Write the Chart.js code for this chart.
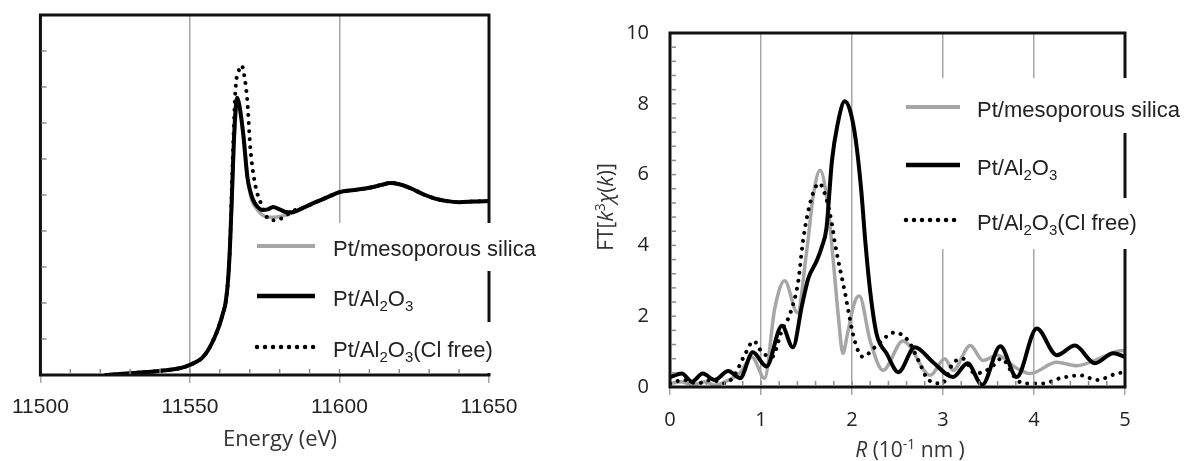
<!DOCTYPE html>
<html>
<head>
<meta charset="utf-8">
<script src="https://cdn.jsdelivr.net/npm/chart.js@4"></script>
<style>
  body { margin: 0; background: #fff; }
  #wrap { position: relative; width: 1188px; height: 461px; }
  canvas { position: absolute; top: 0; }
</style>
</head>
<body>
<div id="wrap">
  <canvas id="xanes" width="580" height="461" style="left:0"></canvas>
  <canvas id="ft" width="608" height="461" style="left:580px"></canvas>
</div>
<script>
// series names (shared by both panels)
const seriesNames = ['Pt/mesoporous silica', 'Pt/Al2O3', 'Pt/Al2O3(Cl free)'];

// ---- left panel: XANES, energy (eV) vs normalised absorption (arb.)
const xanesTicks = [11500, 11550, 11600, 11650];

const eAl = [11522, 11530, 11538, 11544, 11548, 11550, 11552, 11554, 11556, 11558, 11559.5, 11561, 11562, 11562.8, 11563.4, 11564, 11564.6, 11565.2, 11565.8, 11566.5, 11567.8, 11569.2, 11570.2, 11571.2, 11572.5, 11574.2, 11576, 11577.8, 11580, 11582, 11584, 11588, 11592, 11596, 11600, 11605, 11610, 11614, 11617, 11620, 11624, 11628, 11632, 11636, 11640, 11645, 11650];
const muAl = [0, 0.05, 0.1, 0.15, 0.22, 0.28, 0.36, 0.47, 0.68, 1.0, 1.3, 1.7, 2.05, 2.7, 3.6, 4.9, 6.3, 7.3, 7.7, 7.5, 6.7, 5.5, 5.1, 4.85, 4.68, 4.58, 4.6, 4.67, 4.6, 4.53, 4.52, 4.65, 4.8, 4.94, 5.08, 5.14, 5.2, 5.28, 5.33, 5.3, 5.18, 5.02, 4.9, 4.83, 4.8, 4.82, 4.83];

const eSil = [11522, 11530, 11538, 11544, 11548, 11550, 11552, 11554, 11556, 11558, 11559.5, 11561, 11562, 11562.8, 11563.4, 11564, 11564.6, 11565.3, 11566, 11566.8, 11568, 11569.4, 11570.5, 11572.5, 11574.2, 11576, 11578, 11580.9, 11584, 11588, 11592, 11596, 11600, 11605, 11610, 11614, 11617, 11620, 11624, 11628, 11632, 11636, 11640, 11645, 11650];
const muSil = [0, 0.05, 0.1, 0.15, 0.22, 0.28, 0.36, 0.47, 0.68, 1.0, 1.3, 1.7, 2.05, 2.65, 3.5, 4.8, 6.2, 7.2, 7.6, 7.4, 6.6, 5.4, 4.9, 4.6, 4.45, 4.38, 4.38, 4.42, 4.5, 4.65, 4.8, 4.94, 5.08, 5.14, 5.2, 5.28, 5.33, 5.3, 5.18, 5.02, 4.9, 4.83, 4.8, 4.82, 4.83];

const eCl = [11522, 11530, 11538, 11544, 11548, 11550, 11552, 11554, 11556, 11558, 11559.5, 11561, 11562, 11562.8, 11563.4, 11564.3, 11565.2, 11566.3, 11567.3, 11568.2, 11569.2, 11570.2, 11571.8, 11574.2, 11575.8, 11578, 11580.9, 11584.2, 11588, 11592, 11596, 11600, 11605, 11610, 11614, 11617, 11620, 11624, 11628, 11632, 11636, 11640, 11645, 11650];
const muCl = [0, 0.05, 0.1, 0.15, 0.22, 0.28, 0.36, 0.47, 0.68, 1.0, 1.3, 1.7, 2.05, 2.7, 3.6, 6.0, 7.9, 8.45, 8.6, 8.3, 7.6, 6.3, 5.3, 4.67, 4.38, 4.3, 4.36, 4.55, 4.65, 4.8, 4.94, 5.08, 5.14, 5.2, 5.28, 5.33, 5.3, 5.18, 5.02, 4.9, 4.83, 4.8, 4.82, 4.83];

// ---- right panel: FT of k3-weighted EXAFS, R (0.1 nm)
const ftTicksX = [0, 1, 2, 3, 4, 5];
const ftTicksY = [0, 2, 4, 6, 8, 10];

const rAl = [0, 0.13, 0.24, 0.36, 0.49, 0.64, 0.77, 0.91, 1.06, 1.23, 1.35, 1.45, 1.52, 1.61, 1.67, 1.72, 1.78, 1.84, 1.92, 1.98, 2.04, 2.1, 2.15, 2.2, 2.27, 2.38, 2.51, 2.69, 2.89, 3.11, 3.27, 3.43, 3.63, 3.81, 4.03, 4.25, 4.45, 4.67, 4.87, 5.0];
const ftAl = [0.28, 0.38, 0.15, 0.38, 0.2, 0.45, 0.25, 0.98, 0.58, 1.73, 1.12, 2.3, 3.07, 3.55, 3.97, 4.5, 6.4, 7.4, 8.07, 7.8, 7.0, 5.6, 4.0, 2.7, 1.5, 0.95, 0.42, 1.12, 0.7, 0.28, 0.67, 0.06, 1.15, 0.28, 1.65, 0.9, 1.17, 0.67, 0.95, 0.85];

const rSil = [0, 0.13, 0.25, 0.38, 0.5, 0.63, 0.77, 0.9, 1.04, 1.15, 1.26, 1.4, 1.5, 1.58, 1.65, 1.74, 1.8, 1.85, 1.9, 1.95, 2.03, 2.08, 2.2, 2.34, 2.56, 2.62, 2.86, 3.02, 3.11, 3.3, 3.44, 3.6, 3.81, 3.96, 4.25, 4.47, 4.76, 4.97, 5.0];
const ftSil = [0.1, 0.15, 0.05, 0.15, 0.05, 0.18, 0.4, 0.85, 0.25, 2.2, 3.0, 2.1, 3.8, 5.5, 6.12, 5.0, 3.4, 2.0, 0.95, 1.5, 2.4, 2.57, 1.3, 0.47, 1.3, 1.2, 0.33, 0.8, 0.47, 1.17, 0.75, 0.9, 0.53, 0.38, 0.7, 0.6, 0.85, 1.03, 1.0];

const rCl = [0, 0.15, 0.3, 0.45, 0.6, 0.7, 0.82, 0.92, 1.01, 1.12, 1.23, 1.32, 1.41, 1.46, 1.54, 1.64, 1.72, 1.78, 1.81, 1.92, 2.03, 2.12, 2.25, 2.47, 2.62, 2.73, 2.84, 2.99, 3.11, 3.22, 3.35, 3.52, 3.64, 3.81, 3.92, 4.1, 4.29, 4.51, 4.69, 4.91, 5.0];
const ftCl = [0.1, 0.2, 0.1, 0.2, 0.1, 0.3, 0.9, 1.3, 0.98, 0.85, 1.6, 2.07, 3.0, 4.1, 5.2, 5.75, 5.3, 4.6, 4.1, 2.7, 1.3, 0.85, 1.12, 1.54, 1.3, 0.75, 0.2, 0.1, 0.67, 0.8, 0.38, 0.53, 0.8, 0.2, 0.1, 0.1, 0.25, 0.33, 0.2, 0.38, 0.42];

const pts = (xs, ys) => xs.map((x, i) => ({ x: x, y: ys[i] }));

const GRAY = '#a6a6a6';
const DOTS = [0.01, 8];
const styles = [
  { color: GRAY, width: 3.5, dash: [] },
  { color: '#000', width: 4, dash: [] },
  { color: '#000', width: 4, dash: DOTS }
];

function makeSets(xs, ys) {
  // drawn order: black on top, then dotted, gray at the back
  const order = [2, 0, 1];
  return seriesNames.map((name, i) => ({
    label: name,
    data: pts(xs[i], ys[i]),
    showLine: true,
    pointRadius: 0,
    fill: false,
    borderColor: styles[i].color,
    borderWidth: styles[i].width,
    borderDash: styles[i].dash,
    borderCapStyle: 'round',
    cubicInterpolationMode: 'monotone',
    order: order[i]
  }));
}

// text with italic / sub / sup pieces
function drawRich(ctx, parts, x, y, size, family, align) {
  const font = p => (p.it ? 'italic ' : '') + ((p.sub || p.sup) ? Math.round(size * 0.68) : size) + 'px ' + family;
  let w = 0;
  parts.forEach(p => { ctx.font = font(p); w += ctx.measureText(p.t).width; });
  let cx = align === 'center' ? x - w / 2 : x;
  ctx.textAlign = 'left';
  ctx.textBaseline = 'alphabetic';
  parts.forEach(p => {
    ctx.font = font(p);
    const dy = p.sub ? size * 0.24 : p.sup ? -size * 0.36 : 0;
    ctx.fillText(p.t, cx, y + dy);
    cx += ctx.measureText(p.t).width;
  });
  return w;
}

// digits in the sample names are chemical subscripts
const nameParts = name => name.split(/(\d)/).filter(s => s).map(s => /\d/.test(s) ? { t: s, sub: true } : { t: s });

const framePlugin = {
  id: 'frame',
  afterDatasetsDraw(chart, args, o) {
    const { ctx, chartArea: a, scales: { x, y } } = chart;
    ctx.save();
    ctx.strokeStyle = '#111';
    ctx.lineWidth = 3;
    ctx.strokeRect(a.left, a.top, a.right - a.left, a.bottom - a.top);

    // white boxes behind each legend entry
    ctx.fillStyle = '#fff';
    o.boxes.forEach(b => ctx.fillRect(b[0], b[1], b[2] - b[0], b[3] - b[1]));

    // inward minor ticks
    ctx.strokeStyle = '#8c8c8c';
    ctx.lineWidth = 1.5;
    const nx = Math.round((x.max - x.min) / o.xMinor);
    for (let i = 1; i < nx; i++) {
      const px = x.getPixelForValue(x.min + i * o.xMinor);
      ctx.beginPath(); ctx.moveTo(px, a.bottom - 1); ctx.lineTo(px, a.bottom - 6); ctx.stroke();
    }
    const ny = Math.round((y.max - y.min) / o.yMinor);
    for (let i = 1; i < ny; i++) {
      const py = y.getPixelForValue(y.min + i * o.yMinor);
      ctx.beginPath(); ctx.moveTo(a.left + 1, py); ctx.lineTo(a.left + 6, py); ctx.stroke();
    }

    // legend
    const L = o.legend;
    seriesNames.forEach((name, i) => {
      const ry = L.rows[i];
      const s = styles[i];
      ctx.strokeStyle = s.color;
      ctx.lineWidth = s.width + 0.5;
      ctx.lineCap = s.dash.length ? 'round' : 'butt';
      ctx.setLineDash(s.dash);
      ctx.beginPath(); ctx.moveTo(L.x0, ry); ctx.lineTo(L.x1, ry); ctx.stroke();
      ctx.setLineDash([]);
      ctx.fillStyle = '#222';
      drawRich(ctx, nameParts(name), L.tx, ry + 10, 22, '"Liberation Sans", Arial', 'left');
    });

    // axis titles
    ctx.fillStyle = '#333';
    if (o.xTitle) drawRich(ctx, o.xTitle.parts, o.xTitle.x, o.xTitle.y, o.xTitle.size, o.xTitle.family, 'center');
    if (o.yTitle) {
      ctx.translate(o.yTitle.x, o.yTitle.y);
      ctx.rotate(-Math.PI / 2);
      drawRich(ctx, o.yTitle.parts, 0, 0, o.yTitle.size, o.yTitle.family, 'center');
    }
    ctx.restore();
  }
};

const gridX = { color: GRAY, lineWidth: 1.5, drawTicks: true, tickLength: 8, tickColor: GRAY };

// left: XANES
new Chart(document.getElementById('xanes'), {
  type: 'scatter',
  data: { datasets: makeSets([eSil, eAl, eCl], [muSil, muAl, muCl]) },
  plugins: [framePlugin],
  options: {
    responsive: false,
    animation: false,
    layout: { padding: { top: 15, right: 91, left: 0, bottom: 0 } },
    plugins: {
      legend: { display: false },
      tooltip: { enabled: false },
      frame: {
        xMinor: 10, yMinor: 1,
        boxes: [[250, 223, 548, 271], [250, 271, 422, 322], [250, 322, 500, 373]],
        legend: { x0: 257, x1: 315, tx: 333, rows: [246, 296, 347] },
        xTitle: { parts: [{ t: 'Energy (eV)' }], x: 280, y: 446, size: 22, family: '"Open Sans"' }
      }
    },
    scales: {
      x: {
        type: 'linear', min: 11500, max: 11650,
        afterBuildTicks: s => { s.ticks = xanesTicks.map(v => ({ value: v })); },
        grid: gridX,
        border: { display: false },
        ticks: { font: { family: '"Liberation Sans", Arial', size: 21 }, color: '#222', padding: 12, maxRotation: 0, callback: v => String(v) },
        afterFit: s => { s.height = 86; }
      },
      y: {
        min: 0, max: 10,
        ticks: { display: false },
        grid: { display: false, drawTicks: false },
        border: { display: false },
        afterFit: s => { s.width = 40; }
      }
    }
  }
});

// right: Fourier transform
new Chart(document.getElementById('ft'), {
  type: 'scatter',
  data: { datasets: makeSets([rSil, rAl, rCl], [ftSil, ftAl, ftCl]) },
  plugins: [framePlugin],
  options: {
    responsive: false,
    animation: false,
    layout: { padding: { top: 29, right: 63, left: 0, bottom: 0 } },
    plugins: {
      legend: { display: false },
      tooltip: { enabled: false },
      frame: {
        xMinor: 0.2, yMinor: 0.4,
        boxes: [[318, 78, 608, 133], [318, 133, 488, 198], [318, 198, 565, 249]],
        legend: { x0: 326, x1: 380, tx: 397, rows: [107, 165, 220] },
        xTitle: {
          parts: [{ t: 'R', it: true }, { t: ' (10' }, { t: '-1', sup: true }, { t: ' nm )' }],
          x: 330, y: 457, size: 21, family: '"Open Sans"'
        },
        yTitle: {
          parts: [{ t: 'FT[' }, { t: 'k', it: true }, { t: '3', sup: true }, { t: 'χ', it: true }, { t: '(' }, { t: 'k', it: true }, { t: ')]' }],
          x: 33, y: 207, size: 21, family: '"Open Sans"'
        }
      }
    },
    scales: {
      x: {
        type: 'linear', min: 0, max: 5,
        afterBuildTicks: s => { s.ticks = ftTicksX.map(v => ({ value: v })); },
        grid: gridX,
        border: { display: false },
        ticks: { font: { family: '"Open Sans"', size: 20 }, color: '#222', padding: 13, maxRotation: 0 },
        afterFit: s => { s.height = 74; }
      },
      y: {
        min: 0, max: 10,
        afterBuildTicks: s => { s.ticks = ftTicksY.map(v => ({ value: v })); },
        grid: { display: false, drawTicks: false },
        border: { display: false },
        ticks: { font: { family: '"Open Sans"', size: 20 }, color: '#222', padding: 21 },
        afterFit: s => { s.width = 90; }
      }
    }
  }
});
</script>
</body>
</html>
